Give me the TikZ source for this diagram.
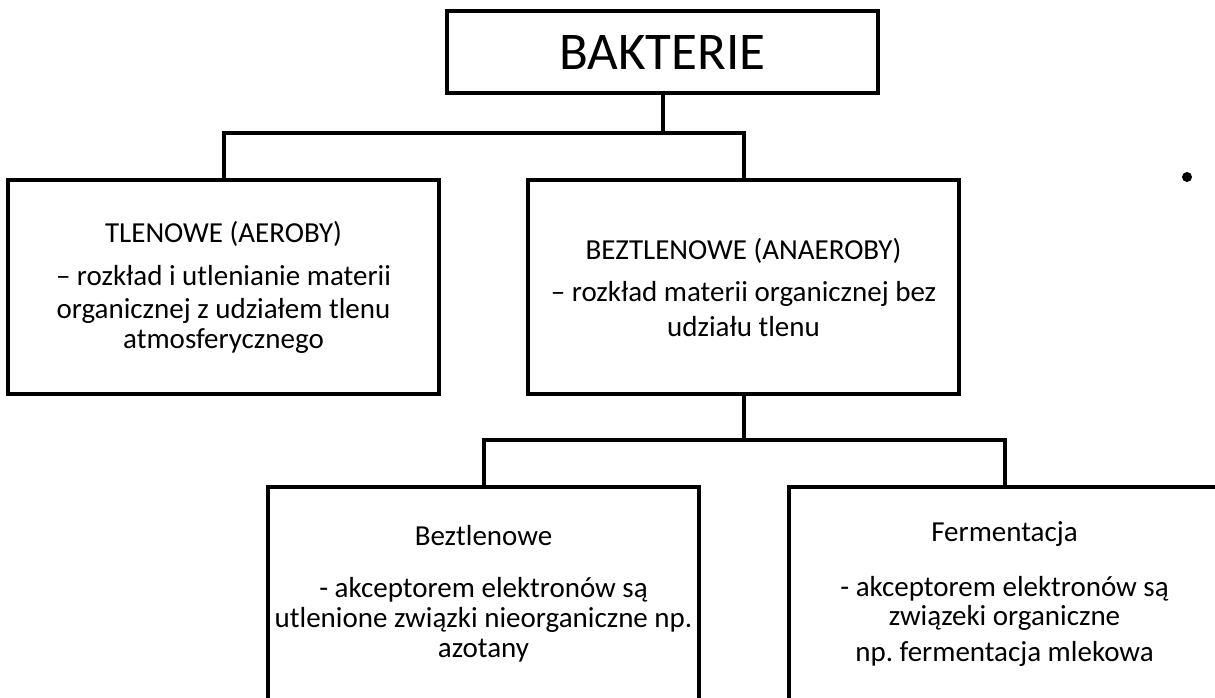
\documentclass[tikz,border=0pt]{standalone}
\usepackage{fontspec}
\setmainfont{Carlito}
\frenchspacing
\begin{document}
\begin{tikzpicture}[x=1pt, y=-1pt, line width=4pt, line join=miter,
  box/.style={draw, rectangle, minimum width=431pt, minimum height=214pt,
    inner sep=0pt, outer sep=0pt, align=center, anchor=north west,
    font=\fontsize{29}{32}\selectfont},
  headbox/.style={box, minimum height=82pt, font=\fontsize{53}{60}\selectfont},
  link/.style={draw, line width=4pt}]
\useasboundingbox (0,0) rectangle (1215,697);
\clip (0,0) rectangle (1215,697);

% boxes
\node[headbox] (root) at (447,11) {BAKTERIE};
\node[box] (aero) at (8,180) {TLENOWE (AEROBY)\\[11pt]
  – rozkład i utlenianie materii\\[1pt]
  organicznej z udziałem tlenu\\[-2pt]
  atmosferycznego};
\node[box] (anaero) at (528,180) {BEZTLENOWE (ANAEROBY)\\[10pt]
  – rozkład materii organicznej bez\\[3pt]
  udziału tlenu};
\node[box] (resp) at (268,487) {Beztlenowe\\[20pt]
  - akceptorem elektronów są\\[-2pt]
  utlenione związki nieorganiczne np.\\[-2pt]
  azotany};
\node[box] (ferm) at (789,487) {Fermentacja\\[23pt]
  - akceptorem elektronów są\\[-3pt]
  związeki organiczne\\[4pt]
  np. fermentacja mlekowa};

% connectors
\coordinate (j1) at (662.5,133);
\coordinate (j2) at (743.5,440);
\path[link] (root.south) -- (j1);
\path[link] (aero.north) |- (j1) -| (anaero.north);
\path[link] (anaero.south) -- (j2);
\path[link] (resp.north) |- (j2) -| (ferm.north);

% bullet
\node[circle, fill, minimum size=10pt, inner sep=0pt, draw=none] (dot) at (1187,177) {};
\end{tikzpicture}
\end{document}
